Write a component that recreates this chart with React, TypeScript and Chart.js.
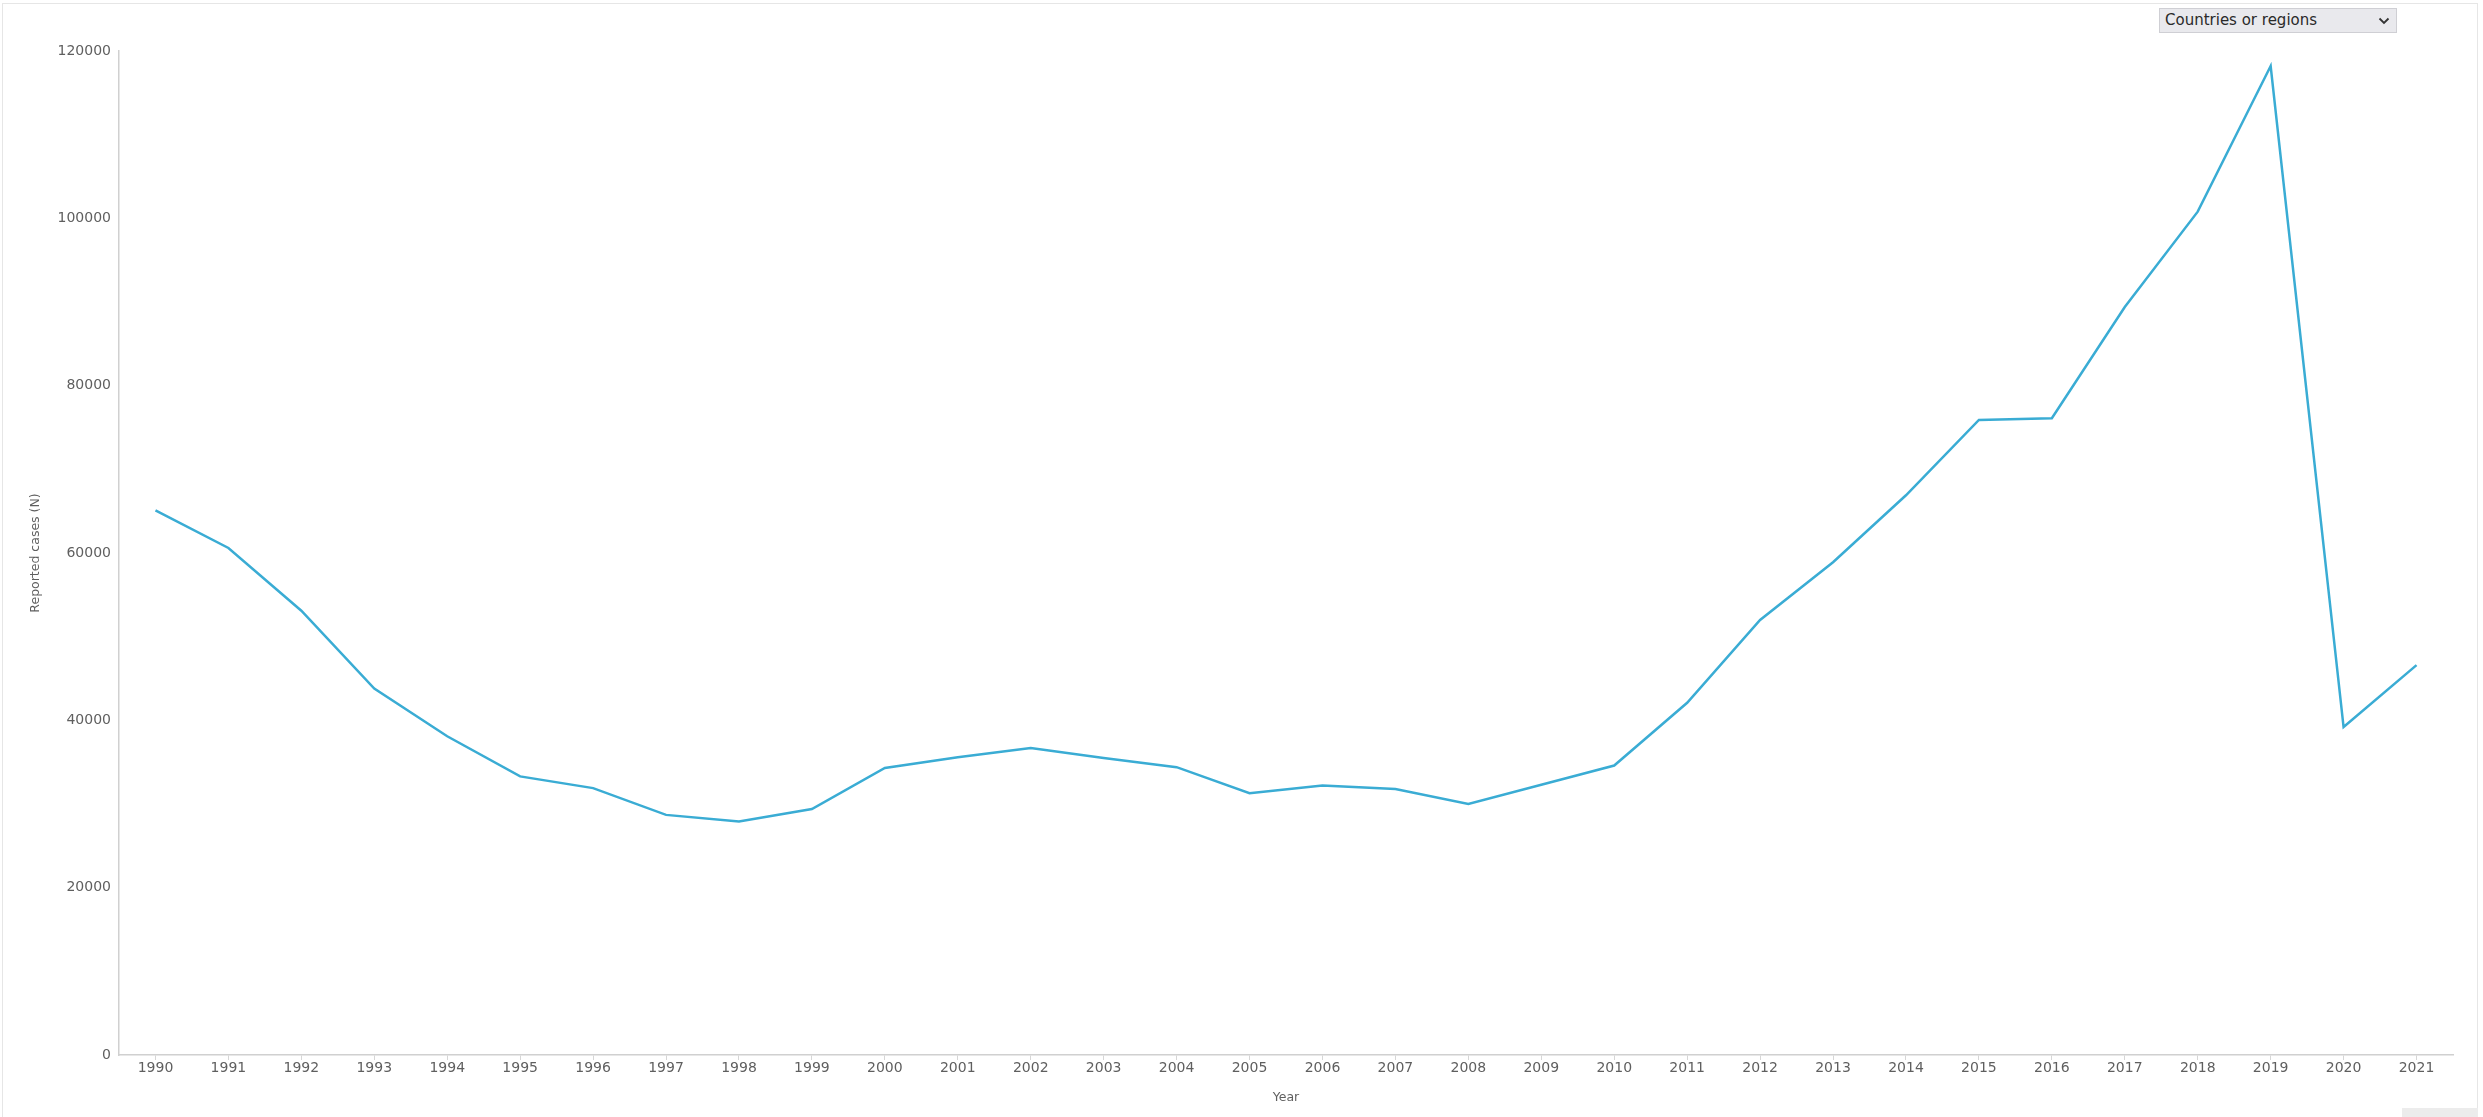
import React, { useEffect, useRef } from "react";
import { Chart, registerables } from "chart.js";

Chart.register(...registerables);

const years: string[] = [
  "1990", "1991", "1992", "1993", "1994", "1995", "1996", "1997", "1998", "1999",
  "2000", "2001", "2002", "2003", "2004", "2005", "2006", "2007", "2008", "2009",
  "2010", "2011", "2012", "2013", "2014", "2015", "2016", "2017", "2018", "2019",
  "2020", "2021",
];

const reportedCases: number[] = [
  65100, 60600, 53100, 43800, 38100, 33300, 31900, 28700, 27900, 29400,
  34300, 35600, 36700, 35500, 34400, 31300, 32200, 31800, 30000, 32300,
  34600, 42100, 52000, 58900, 66900, 75900, 76100, 89400, 100800, 118200,
  39200, 46600,
];

const yTickMax = 120000;
const yTickStep = 20000;

const FONT = "'DejaVu Sans', Verdana, sans-serif";

export default function App() {
  const canvasRef = useRef<HTMLCanvasElement | null>(null);

  useEffect(() => {
    document.body.style.margin = "0";
    const canvas = canvasRef.current;
    if (!canvas) return;
    const chart = new Chart(canvas, {
      type: "line",
      data: {
        labels: years,
        datasets: [
          {
            label: "Reported cases (N)",
            data: reportedCases,
            borderColor: "#3aacd4",
            backgroundColor: "#3aacd4",
            borderWidth: 2.5,
            pointRadius: 0,
            pointHoverRadius: 0,
            tension: 0,
            fill: false,
          },
        ],
      },
      options: {
        animation: false,
        responsive: true,
        maintainAspectRatio: false,
        devicePixelRatio: 1,
        layout: { padding: { left: 0, top: 51, right: 30, bottom: 0 } },
        plugins: {
          legend: { display: false },
          tooltip: { enabled: false },
        },
        scales: {
          x: {
            type: "category",
            offset: true,
            grid: {
              display: true,
              drawOnChartArea: false,
              drawTicks: true,
              tickLength: 5,
              color: "#d6d6d6",
              lineWidth: 1,
            },
            border: { display: true, color: "#d0d0d0", width: 1.5 },
            ticks: {
              color: "#5f5f5f",
              font: { family: FONT, size: 14 },
              padding: 0,
              maxRotation: 0,
              autoSkip: false,
            },
            title: {
              display: true,
              text: "Year",
              color: "#5f5f5f",
              font: { family: FONT, size: 12.5 },
              padding: { top: 0, bottom: 11.5 },
            },
            afterFit: (scale: any) => {
              scale.height = 62;
            },
          },
          y: {
            min: 0,
            max: yTickMax,
            grid: { display: false, drawTicks: false },
            border: { display: true, color: "#d0d0d0", width: 1.5 },
            ticks: {
              stepSize: yTickStep,
              color: "#5f5f5f",
              font: { family: FONT, size: 14 },
              padding: 8,
              callback: (v: any) => String(v),
            },
            title: {
              display: true,
              text: "Reported cases (N)",
              color: "#5f5f5f",
              font: { family: FONT, size: 12.5 },
              padding: { top: 28, bottom: 0 },
            },
            afterFit: (scale: any) => {
              scale.width = 119;
            },
          },
        },
      },
    });
    return () => chart.destroy();
  }, []);

  return (
    <div style={{ position: "absolute", left: 0, top: 0, width: 2483, height: 1117, background: "#fff", overflow: "hidden" }}>
      <div
        style={{
          position: "absolute",
          left: 2,
          top: 3,
          width: 2476,
          height: 1120,
          borderTop: "1px solid #e6e6e6",
          borderLeft: "1px solid #e6e6e6",
          borderRight: "1px solid #e6e6e6",
          boxSizing: "border-box",
        }}
      />
      <div style={{ position: "absolute", left: 0, top: 0, width: 2483, height: 1117 }}>
        <canvas ref={canvasRef} />
      </div>
      <div
        style={{
          position: "absolute",
          left: 2159,
          top: 8,
          width: 238,
          height: 25,
          boxSizing: "border-box",
          background: "#e9e9ed",
          border: "1px solid #cfcfd4",
          fontFamily: FONT,
          fontSize: 15,
          color: "#2a2a2a",
          lineHeight: "23px",
          paddingLeft: 5,
          whiteSpace: "nowrap",
        }}
      >
        Countries or regions
        <svg
          width="12"
          height="8"
          viewBox="0 0 12 8"
          style={{ position: "absolute", left: 218, top: 8 }}
        >
          <polyline points="1.5,1.5 6,6 10.5,1.5" fill="none" stroke="#333" strokeWidth="1.8" />
        </svg>
      </div>
      <div
        style={{
          position: "absolute",
          left: 2402,
          top: 1108,
          width: 76,
          height: 12,
          background: "#ececec",
        }}
      />
    </div>
  );
}
